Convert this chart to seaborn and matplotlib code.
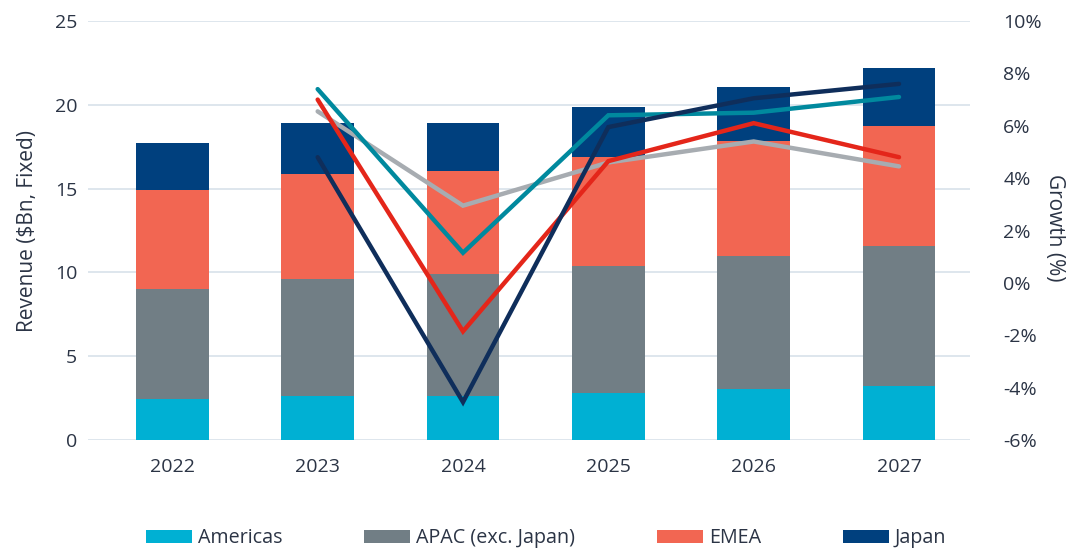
import numpy as np
import pandas as pd
import matplotlib
matplotlib.use("Agg")
import matplotlib.pyplot as plt
import seaborn as sns
from matplotlib.patches import Patch

years = ["2022", "2023", "2024", "2025", "2026", "2027"]
americas = [2.45, 2.6, 2.65, 2.8, 3.05, 3.2]
apac = [6.55, 7.0, 7.25, 7.6, 7.95, 8.4]
emea = [5.9, 6.3, 6.15, 6.5, 6.85, 7.15]
japan = [2.8, 3.0, 2.85, 3.0, 3.2, 3.45]

growth_years = ["2023", "2024", "2025", "2026", "2027"]
growth_teal = [7.4, 1.15, 6.4, 6.5, 7.1]
growth_red = [7.0, -1.85, 4.65, 6.1, 4.8]
growth_gray = [6.55, 2.95, 4.6, 5.4, 4.45]
growth_navy = [4.8, -4.55, 5.95, 7.05, 7.6]

seg_names = ["Americas", "APAC (exc. Japan)", "EMEA", "Japan"]
seg_colors = ["#00B0D3", "#717E85", "#F26652", "#00407E"]
line_colors = ["#00899E", "#E4261A", "#A7ACB1", "#0F2E5B"]
text_color = "#2B3445"

sns.set_theme(style="white")
plt.rcParams["font.family"] = ["Open Sans", "DejaVu Sans"]

fig = plt.figure(figsize=(10.77, 5.49), dpi=100)
ax = fig.add_axes([0.082, 0.1985, 0.8186, 0.7632])

segs = [americas, apac, emea, japan]
cum = np.cumsum(np.array(segs), axis=0)
df = pd.DataFrame({"year": years})
for i in range(3, -1, -1):
    df["v"] = cum[i]
    sns.barplot(data=df, x="year", y="v", color=seg_colors[i], width=0.5,
                saturation=1, ax=ax, linewidth=0, zorder=2)

ax.set_xlim(-0.578, 5.488)
ax.set_ylim(0, 25)
ax.set_yticks([0, 5, 10, 15, 20, 25])
ax.grid(axis="y", color="#D8E1EA", linewidth=1.2, zorder=0)
ax.set_axisbelow(True)
for s in ax.spines.values():
    s.set_visible(False)
ax.tick_params(axis="both", length=0, labelsize=14, colors=text_color, pad=8)
ax.tick_params(axis="x", pad=13)
ax.set_xlabel("")
ax.set_ylabel("Revenue ($Bn, Fixed)", fontsize=15, color=text_color, labelpad=12)

ax2 = ax.twinx()
gx = [years.index(y) for y in growth_years]
for vals, c in zip([growth_gray, growth_teal, growth_red, growth_navy],
                   [line_colors[2], line_colors[0], line_colors[1], line_colors[3]]):
    gdf = pd.DataFrame({"x": gx, "g": vals})
    sns.lineplot(data=gdf, x="x", y="g", color=c, linewidth=3.2, ax=ax2,
                 solid_capstyle="round", solid_joinstyle="miter")
ax2.set_ylim(-6, 10)
ax2.set_yticks(np.arange(-6, 11, 2))
ax2.set_yticklabels([f"{v}%" for v in range(-6, 11, 2)])
ax2.set_xlim(-0.578, 5.488)
for s in ax2.spines.values():
    s.set_visible(False)
ax2.tick_params(axis="y", length=0, labelsize=14, colors=text_color, pad=24)
ax2.set_ylabel("")
ax2.set_xlabel("")
ax2.grid(False)
fig.text(1054 / 1077, 1 - 228 / 549, "Growth (%)", rotation=270, ha="center",
         va="center", fontsize=15, color=text_color)

handles = [Patch(facecolor=c, edgecolor="none") for c in seg_colors]
fig.legend(handles, seg_names, loc="center", bbox_to_anchor=(0.507, 0.02),
           ncol=4, frameon=False, fontsize=14.2, handlelength=2.33, handleheight=0.65,
           handletextpad=0.3, columnspacing=4.15, labelcolor=text_color)

fig.savefig("out.png", dpi=100)
